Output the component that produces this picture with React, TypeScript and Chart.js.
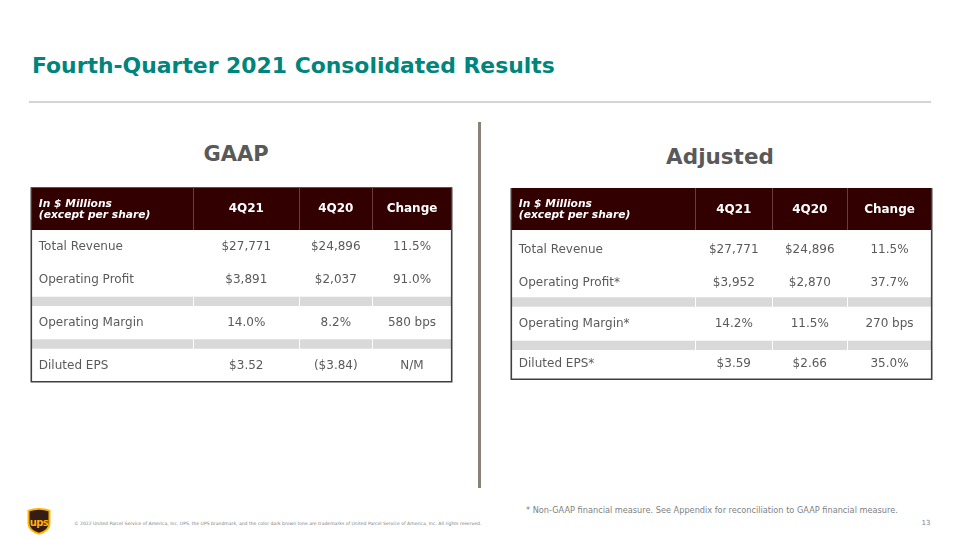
import React, { useEffect, useRef } from "react";
import { Chart, registerables } from "chart.js";

Chart.register(...registerables);

// ---- Data ----
const slideTitle = "Fourth-Quarter 2021 Consolidated Results";
const columnHeaders = ["4Q21", "4Q20", "Change"];
const headerLabel = ["In $ Millions", "(except per share)"];

const gaapMetrics = ["Total Revenue", "Operating Profit", "Operating Margin", "Diluted EPS"];
const gaap4Q21 = ["$27,771", "$3,891", "14.0%", "$3.52"];
const gaap4Q20 = ["$24,896", "$2,037", "8.2%", "($3.84)"];
const gaapChange = ["11.5%", "91.0%", "580 bps", "N/M"];

const adjMetrics = ["Total Revenue", "Operating Profit*", "Operating Margin*", "Diluted EPS*"];
const adj4Q21 = ["$27,771", "$3,952", "14.2%", "$3.59"];
const adj4Q20 = ["$24,896", "$2,870", "11.5%", "$2.66"];
const adjChange = ["11.5%", "37.7%", "270 bps", "35.0%"];

const footnote = "* Non-GAAP financial measure. See Appendix for reconciliation to GAAP financial measure.";
const copyright =
  "\u00A9 2022 United Parcel Service of America, Inc. UPS, the UPS brandmark, and the color dark brown tone are trademarks of United Parcel Service of America, Inc. All rights reserved.";
const pageNumber = "13";

// ---- Layout (table-local units) ----
type Layout = {
  width: number;
  height: number;
  cols: number[];
  top: number;
  headerBottom: number;
  bottom: number;
  rowCenters: number[];
  bands: [number, number][];
  headCenter: number;
  labelBase: number[];
};

const gaapLayout: Layout = {
  width: 424,
  height: 198,
  cols: [1.3, 163.3, 269.3, 342.3, 421.7],
  top: 1.3,
  headerBottom: 44,
  bottom: 195.7,
  rowCenters: [61.3, 94, 137.3, 179.7],
  bands: [
    [110.7, 120],
    [153.3, 162.7],
  ],
  headCenter: 23,
  labelBase: [21, 31.8],
};

const adjLayout: Layout = {
  width: 424,
  height: 198,
  cols: [1.3, 185.3, 262.3, 337.3, 421.7],
  top: 2,
  headerBottom: 44,
  bottom: 193.3,
  rowCenters: [64, 97.3, 138.3, 178.3],
  bands: [
    [111.3, 120.7],
    [154.7, 164],
  ],
  headCenter: 23.5,
  labelBase: [21.3, 32],
};

const FONT = '"DejaVu Sans", Verdana, sans-serif';

type TableProps = {
  metrics: string[];
  cur: string[];
  prev: string[];
  chg: string[];
  layout: Layout;
  left: number;
  top: number;
};

function TableChart({ metrics, cur, prev, chg, layout, left, top }: TableProps) {
  const ref = useRef<HTMLCanvasElement>(null);
  useEffect(() => {
    if (!ref.current) return;
    const plugin = {
      id: "tableCells",
      afterDraw(chart: any) {
        const ctx: CanvasRenderingContext2D = chart.ctx;
        const xs = chart.scales.x;
        const ys = chart.scales.y;
        const X = (v: number) => xs.getPixelForValue(v);
        const Y = (v: number) => ys.getPixelForValue(v);
        const c = layout.cols;
        ctx.save();
        // header background
        ctx.fillStyle = "#320000";
        ctx.fillRect(X(c[0]), Y(layout.top), X(c[4]) - X(c[0]), Y(layout.headerBottom) - Y(layout.top));
        // header separators
        ctx.strokeStyle = "#6e3c36";
        ctx.lineWidth = 1;
        for (let i = 1; i < 4; i++) {
          ctx.beginPath();
          ctx.moveTo(Math.round(X(c[i])) + 0.5, Y(layout.top));
          ctx.lineTo(Math.round(X(c[i])) + 0.5, Y(layout.headerBottom));
          ctx.stroke();
        }
        // grey bands
        layout.bands.forEach(([a, b]) => {
          ctx.fillStyle = "#d9d9d9";
          ctx.fillRect(X(c[0]), Y(a), X(c[4]) - X(c[0]), Y(b) - Y(a));
          ctx.strokeStyle = "#ffffff";
          for (let i = 1; i < 4; i++) {
            ctx.beginPath();
            ctx.moveTo(Math.round(X(c[i])) + 0.5, Y(a));
            ctx.lineTo(Math.round(X(c[i])) + 0.5, Y(b));
            ctx.stroke();
          }
        });
        // borders
        ctx.strokeStyle = "#404040";
        ctx.lineWidth = 1.6;
        ctx.beginPath();
        ctx.moveTo(X(c[0]), Y(layout.top));
        ctx.lineTo(X(c[0]), Y(layout.bottom));
        ctx.lineTo(X(c[4]), Y(layout.bottom));
        ctx.lineTo(X(c[4]), Y(layout.top));
        ctx.stroke();
        // header label
        ctx.fillStyle = "#ffffff";
        ctx.textAlign = "left";
        ctx.textBaseline = "alphabetic";
        ctx.font = `italic bold 10.7px ${FONT}`;
        headerLabel.forEach((t, i) => ctx.fillText(t, X(c[0]) + 7.5, Y(layout.labelBase[i])));
        // column headers
        ctx.font = `bold 12px ${FONT}`;
        ctx.textAlign = "center";
        ctx.textBaseline = "middle";
        columnHeaders.forEach((t, i) => ctx.fillText(t, (X(c[i + 1]) + X(c[i + 2])) / 2, Y(layout.headCenter)));
        // body
        ctx.fillStyle = "#5a5a5a";
        ctx.font = `12px ${FONT}`;
        metrics.forEach((m, r) => {
          const y = Y(layout.rowCenters[r]);
          ctx.textAlign = "left";
          ctx.fillText(m, X(c[0]) + 7.5, y);
          ctx.textAlign = "center";
          [cur[r], prev[r], chg[r]].forEach((v, i) => ctx.fillText(v, (X(c[i + 1]) + X(c[i + 2])) / 2, y));
        });
        ctx.restore();
      },
    };
    const chart = new Chart(ref.current, {
      type: "scatter",
      data: { datasets: [] },
      options: {
        animation: false,
        responsive: false,
        maintainAspectRatio: false,
        layout: { padding: 0 },
        plugins: { legend: { display: false }, tooltip: { enabled: false } },
        scales: {
          x: { type: "linear", min: 0, max: layout.width, display: false },
          y: { type: "linear", min: 0, max: layout.height, reverse: true, display: false },
        },
      },
      plugins: [plugin],
    } as any);
    return () => chart.destroy();
  }, []);
  return (
    <canvas
      ref={ref}
      width={layout.width}
      height={layout.height}
      style={{ position: "absolute", left, top, width: layout.width, height: layout.height }}
    />
  );
}

function UpsLogo() {
  return (
    <svg
      width={24}
      height={28}
      viewBox="0 0 24 28"
      style={{ position: "absolute", left: 27, top: 507 }}
    >
      <path d="M0.5 3 Q12 -1.2 23.5 3 L23.5 16.5 Q23.5 24.5 12 27.8 Q0.5 24.5 0.5 16.5 Z" fill="#ffb500" />
      <path d="M2.5 4.3 Q12 1 21.5 4.3 L21.5 16.3 Q21.5 23 12 25.8 Q2.5 23 2.5 16.3 Z" fill="#351c15" />
      <text
        x={12}
        y={18.5}
        textAnchor="middle"
        fontFamily={FONT}
        fontWeight="bold"
        fontSize={10}
        fill="#ffb500"
        letterSpacing={-0.6}
      >
        ups
      </text>
    </svg>
  );
}

export default function App() {
  const txt = (extra: React.CSSProperties): React.CSSProperties => ({
    position: "absolute",
    whiteSpace: "nowrap",
    fontFamily: FONT,
    ...extra,
  });
  return (
    <div
      style={{
        position: "relative",
        width: 960,
        height: 540,
        overflow: "hidden",
        background: "#ffffff",
      }}
    >
      <style>{"body{margin:0;}"}</style>
      <div
        style={txt({
          left: 32,
          top: 54.5,
          fontSize: 21.9,
          lineHeight: "22px",
          fontWeight: "bold",
          color: "#00857d",
        })}
      >
        {slideTitle}
      </div>
      <div style={{ position: "absolute", left: 29, top: 101, width: 902, height: 2, background: "#d4d4d4" }} />
      <div style={{ position: "absolute", left: 478, top: 122, width: 3, height: 366, background: "#8b8076" }} />
      <div
        style={txt({
          left: 136,
          width: 200,
          textAlign: "center",
          top: 144,
          fontSize: 21,
          lineHeight: "21px",
          fontWeight: "bold",
          color: "#595959",
        })}
      >
        GAAP
      </div>
      <div
        style={txt({
          left: 620,
          width: 200,
          textAlign: "center",
          top: 146,
          fontSize: 21.5,
          lineHeight: "21.5px",
          fontWeight: "bold",
          color: "#595959",
        })}
      >
        Adjusted
      </div>
      <TableChart
        metrics={gaapMetrics}
        cur={gaap4Q21}
        prev={gaap4Q20}
        chg={gaapChange}
        layout={gaapLayout}
        left={30}
        top={186}
      />
      <TableChart
        metrics={adjMetrics}
        cur={adj4Q21}
        prev={adj4Q20}
        chg={adjChange}
        layout={adjLayout}
        left={510}
        top={186}
      />
      <UpsLogo />
      <div style={txt({ left: 74, top: 521.8, fontSize: 4.55, lineHeight: "4.55px", color: "#7f7f7f" })}>
        {copyright}
      </div>
      <div style={txt({ left: 526, top: 506.3, fontSize: 8.2, lineHeight: "8.2px", color: "#7f7f7f" })}>
        {footnote}
      </div>
      <div style={txt({ left: 921.5, top: 519.5, fontSize: 7, lineHeight: "7px", color: "#7f7f7f" })}>
        {pageNumber}
      </div>
    </div>
  );
}
